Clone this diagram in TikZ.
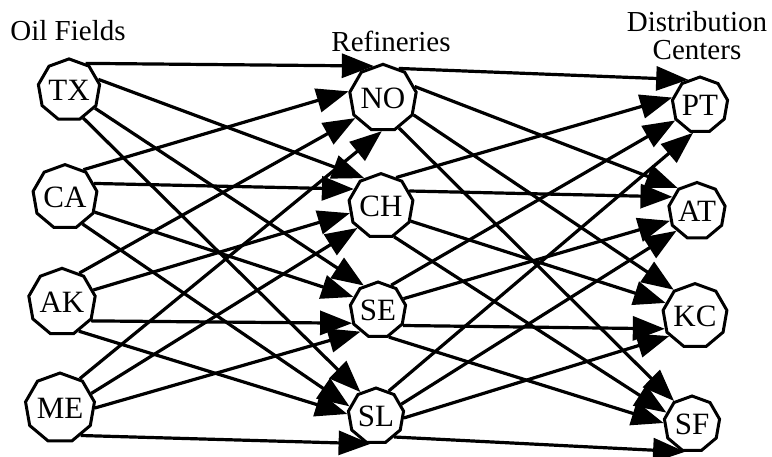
\documentclass[tikz,border=0pt]{standalone}
\usepackage{fontspec}
\setmainfont{Liberation Serif}
\usetikzlibrary{shapes.geometric,arrows.meta}

\begin{document}
\begin{tikzpicture}[x=0.5pt,y=-0.5pt,
  site/.style={draw, line width=1.5pt, regular polygon, regular polygon sides=9,
    minimum size=28pt, inner sep=0pt, fill=white,
    font=\fontsize{15.5}{15.5}\selectfont},
  flow/.style={line width=1.6pt, -{Triangle[length=16pt,width=12pt]}},
  head/.style={font=\fontsize{14.5}{14}\selectfont, align=center, inner sep=0pt}]

  \useasboundingbox (0,0) rectangle (772,456);

  % column headings
  \node[head] (hOil) at (68,31) {Oil Fields};
  \node[head] (hRef) at (391,41) {Refineries};
  \node[head] (hDist) at (697,36) {Distribution\\Centers};

  % oil fields
  \node[site] (TX) at (69,90)  {TX};
  \node[site] (CA) at (65,197) {CA};
  \node[site] (AK) at (62,302) {AK};
  \node[site] (ME) at (60,408) {ME};

  % refineries
  \node[site] (NO) at (383,98)  {NO};
  \node[site] (CH) at (381,206) {CH};
  \node[site] (SE) at (378,310) {SE};
  \node[site] (SL) at (376,416) {SL};

  % distribution centers
  \node[site] (PT) at (700,105) {PT};
  \node[site] (AT) at (697,211) {AT};
  \node[site] (KC) at (695,316) {KC};
  \node[site] (SF) at (692,424) {SF};

  % every source feeds every node of the next column
  \foreach \s/\o/\d/\i in {
    TX/58/NO/106, TX/20/CH/121, TX/325/SE/120, TX/297/SL/123,
    CA/56/NO/169, CA/25/CH/148, CA/333/SE/152, CA/303/SL/160,
    AK/59/NO/216, AK/21/CH/193, AK/327/SE/207, AK/300/SL/176,
    ME/56/NO/268, ME/25/CH/223, ME/0/SE/231,   ME/307/SL/259,
    NO/62/PT/115, NO/20/AT/130, NO/331/KC/129, NO/298/SF/128,
    CH/62/PT/165, CH/28/AT/150, CH/333/KC/156, CH/293/SF/156,
    SE/62/PT/212, SE/24/AT/200, SE/328/KC/203, SE/292/SF/178,
    SL/63/PT/256, SL/25/AT/224, SL/356/KC/218, SL/311/SF/256}
    \draw[flow] (\s.\o) -- (\d.\i);
\end{tikzpicture}
\end{document}
